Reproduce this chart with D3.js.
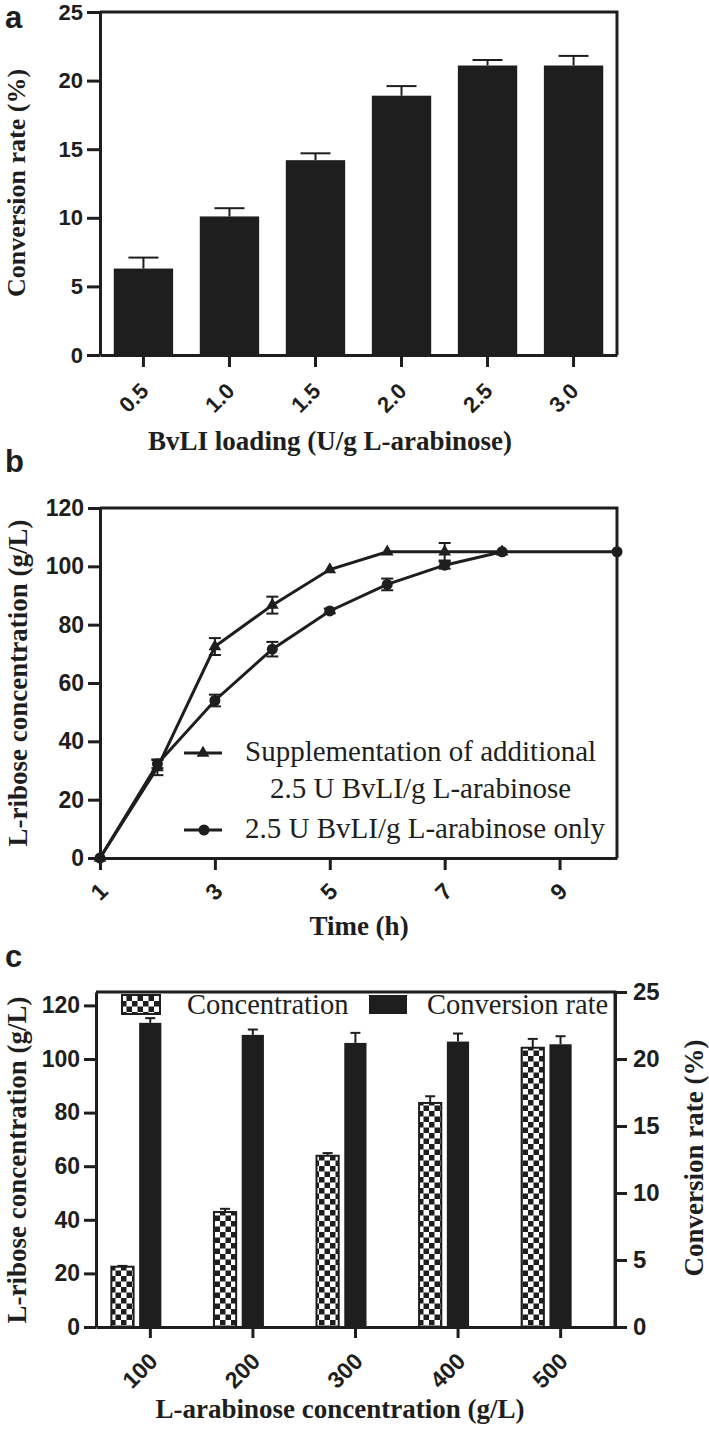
<!DOCTYPE html>
<html>
<head>
<meta charset="utf-8">
<script src="https://cdn.jsdelivr.net/npm/d3@7/dist/d3.min.js"></script>
<style>
  body { margin: 0; background: #fff; }
  svg { display: block; }
</style>
</head>
<body>
<svg width="709" height="1431"></svg>
<script>
// panel a: conversion vs enzyme loading
const loadingLevels = ["0.5", "1.0", "1.5", "2.0", "2.5", "3.0"];
const loadingRate = [6.3, 10.1, 14.2, 18.9, 21.1, 21.1];
const loadingErr = [0.8, 0.6, 0.5, 0.7, 0.4, 0.7];

// panel b: time course
const suppTime = [1, 2, 3, 4, 5, 6, 7, 8];
const suppConc = [0, 31, 72.5, 86.7, 98.9, 105, 105, 105];
const suppErr = [0, 2.6, 2.9, 2.9, 0, 0, 3, 0];
const onlyTime = [1, 2, 3, 4, 5, 6, 7, 8, 10];
const onlyConc = [0, 32.3, 54, 71.6, 84.7, 93.8, 100.4, 105, 105];
const onlyErr = [0, 1.5, 2, 2.5, 0.8, 2, 1.2, 0, 0];
const timeTicks = [1, 3, 5, 7, 9];

// panel c: substrate concentration
const arabinoseLevels = ["100", "200", "300", "400", "500"];
const riboseConc = [22.5, 42.9, 63.9, 83.6, 104.2];
const riboseErr = [0.3, 1.2, 1.0, 2.5, 3.3];
const convRate = [22.7, 21.8, 21.2, 21.3, 21.1];
const convErr = [0.35, 0.4, 0.75, 0.6, 0.6];

const svg = d3.select("svg");
const ink = "#1e1e1e";
const sans = '"Liberation Sans", Arial, sans-serif';
const serif = '"Liberation Serif", "Times New Roman", serif';

svg.append("rect").attr("width", 709).attr("height", 1431).attr("fill", "#fff");

const defs = svg.append("defs");
const pat = defs.append("pattern").attr("id", "checker")
  .attr("width", 11).attr("height", 11).attr("patternUnits", "userSpaceOnUse");
pat.append("rect").attr("width", 11).attr("height", 11).attr("fill", "#fff");
pat.append("rect").attr("width", 5.5).attr("height", 5.5).attr("fill", ink);
pat.append("rect").attr("x", 5.5).attr("y", 5.5).attr("width", 5.5).attr("height", 5.5).attr("fill", ink);

function styleAxis(g, size) {
  g.select(".domain").attr("stroke", ink).attr("stroke-width", 3);
  g.selectAll(".tick line").attr("stroke", ink).attr("stroke-width", 3);
  g.selectAll(".tick text").attr("fill", ink)
    .style("font-family", sans).style("font-weight", "bold").style("font-size", size + "px");
}
function rotateTicks(g, dx, dy) {
  g.selectAll(".tick text")
    .attr("x", 0).attr("y", 0).attr("dy", "0.35em")
    .attr("text-anchor", "end")
    .attr("transform", `translate(${dx},${dy}) rotate(-45)`);
}
function frame(x0, x1, y0, y1) {
  svg.append("path")
    .attr("d", `M${x0},${y0}H${x1}V${y1}`)
    .attr("fill", "none").attr("stroke", ink).attr("stroke-width", 3);
}
function yTitle(text, x, y, size) {
  svg.append("text").attr("transform", `translate(${x},${y}) rotate(-90)`)
    .attr("text-anchor", "middle").attr("fill", ink)
    .style("font-family", serif).style("font-weight", "bold").style("font-size", size + "px")
    .text(text);
}
function xTitle(text, x, y, size) {
  svg.append("text").attr("x", x).attr("y", y)
    .attr("text-anchor", "middle").attr("fill", ink)
    .style("font-family", serif).style("font-weight", "bold").style("font-size", size + "px")
    .text(text);
}
function panelLabel(t, x, y) {
  svg.append("text").attr("x", x).attr("y", y).attr("fill", ink)
    .style("font-family", sans).style("font-weight", "bold").style("font-size", "31px")
    .text(t);
}

// ---------- a ----------
const xA = d3.scaleBand().domain(loadingLevels).range([100, 617]).paddingInner(0.31).paddingOuter(0.16);
const yA = d3.scaleLinear().domain([0, 25]).range([355, 12]);

frame(100, 617, 12, 355);
svg.append("g").selectAll("rect").data(loadingLevels).enter().append("rect")
  .attr("x", d => xA(d)).attr("width", xA.bandwidth())
  .attr("y", (d, i) => yA(loadingRate[i]))
  .attr("height", (d, i) => yA(0) - yA(loadingRate[i]))
  .attr("fill", ink);
const errA = svg.append("g").attr("stroke", ink).attr("stroke-width", 2);
loadingLevels.forEach((d, i) => {
  const cx = xA(d) + xA.bandwidth() / 2;
  errA.append("line").attr("x1", cx).attr("x2", cx)
    .attr("y1", yA(loadingRate[i])).attr("y2", yA(loadingRate[i] + loadingErr[i]));
  errA.append("line").attr("x1", cx - 15).attr("x2", cx + 15)
    .attr("y1", yA(loadingRate[i] + loadingErr[i])).attr("y2", yA(loadingRate[i] + loadingErr[i]));
});
svg.append("g").attr("transform", "translate(100,0)")
  .call(d3.axisLeft(yA).tickValues([0, 5, 10, 15, 20, 25]).tickSize(13).tickSizeOuter(0).tickPadding(4))
  .call(g => styleAxis(g, 22));
svg.append("g").attr("transform", "translate(0,355)")
  .call(d3.axisBottom(xA).tickSize(12).tickSizeOuter(0))
  .call(g => styleAxis(g, 22))
  .call(g => rotateTicks(g, 1, 32));
yTitle("Conversion rate (%)", 25, 183, 26);
xTitle("BvLI loading (U/g L-arabinose)", 330, 450, 27);
panelLabel("a", 5, 28);

// ---------- b ----------
const xB = d3.scaleLinear().domain([1, 10]).range([100, 617]);
const yB = d3.scaleLinear().domain([0, 120]).range([858, 508]);
frame(100, 617, 508, 858);

const suppPts = suppTime.map((t, i) => ({ t, v: suppConc[i], e: suppErr[i] }));
const onlyPts = onlyTime.map((t, i) => ({ t, v: onlyConc[i], e: onlyErr[i] }));
const line = d3.line().x(d => xB(d.t)).y(d => yB(d.v));

svg.append("path").datum(suppPts).attr("d", line)
  .attr("fill", "none").attr("stroke", ink).attr("stroke-width", 3);
svg.append("path").datum(onlyPts).attr("d", line)
  .attr("fill", "none").attr("stroke", ink).attr("stroke-width", 3);

const errB = svg.append("g").attr("stroke", ink).attr("stroke-width", 2);
suppPts.concat(onlyPts).filter(d => d.e > 0).forEach(d => {
  const cx = xB(d.t);
  errB.append("line").attr("x1", cx).attr("x2", cx).attr("y1", yB(d.v - d.e)).attr("y2", yB(d.v + d.e));
  [d.v - d.e, d.v + d.e].forEach(v => {
    errB.append("line").attr("x1", cx - 6).attr("x2", cx + 6).attr("y1", yB(v)).attr("y2", yB(v));
  });
});

const tri = d3.symbol(d3.symbolTriangle).size(70);
svg.append("g").selectAll("path").data(suppPts).enter().append("path")
  .attr("d", tri).attr("transform", d => `translate(${xB(d.t)},${yB(d.v)})`).attr("fill", ink);
svg.append("g").selectAll("circle").data(onlyPts).enter().append("circle")
  .attr("cx", d => xB(d.t)).attr("cy", d => yB(d.v)).attr("r", 5.5).attr("fill", ink);

svg.append("g").attr("transform", "translate(100,0)")
  .call(d3.axisLeft(yB).tickValues(d3.range(0, 121, 20)).tickSize(12).tickSizeOuter(0).tickPadding(4))
  .call(g => styleAxis(g, 23));
svg.append("g").attr("transform", "translate(0,858)")
  .call(d3.axisBottom(xB).tickValues(timeTicks).tickSize(12).tickSizeOuter(0))
  .call(g => styleAxis(g, 23))
  .call(g => rotateTicks(g, 3, 29));

// legend b
const legB = svg.append("g");
[[753, "tri"], [830, "dot"]].forEach(([ly, kind]) => {
  legB.append("line").attr("x1", 184).attr("x2", 222).attr("y1", ly).attr("y2", ly)
    .attr("stroke", ink).attr("stroke-width", 3);
  if (kind === "tri") legB.append("path").attr("d", tri).attr("transform", `translate(203,${ly})`).attr("fill", ink);
  else legB.append("circle").attr("cx", 204).attr("cy", ly).attr("r", 5.5).attr("fill", ink);
});
const legText = (t, x, y) => legB.append("text").attr("x", x).attr("y", y).attr("fill", ink)
  .style("font-family", serif).style("font-size", "29px").text(t);
legText("Supplementation of additional", 245, 761);
legText("2.5 U BvLI/g L-arabinose", 270, 798);
legText("2.5 U BvLI/g L-arabinose only", 245, 838);

yTitle("L-ribose concentration (g/L)", 27, 683, 27);
xTitle("Time (h)", 359, 935, 27);
panelLabel("b", 5, 472);

// ---------- c ----------
const xC = d3.scaleBand().domain(arabinoseLevels).range([96, 615]).paddingInner(0).paddingOuter(0.03);
const sub = d3.scaleBand().domain(["Concentration", "Conversion rate"]).range([-39, 11]).paddingInner(0.2);
const yC = d3.scaleLinear().domain([0, 125]).range([1327, 992]);
const yR = d3.scaleLinear().domain([0, 25]).range([1327, 992]);
frame(96, 615, 992, 1327);

const mid = d => xC(d) + xC.bandwidth() / 2;
svg.append("g").selectAll("rect").data(arabinoseLevels).enter().append("rect")
  .attr("x", d => mid(d) + sub("Concentration")).attr("width", sub.bandwidth())
  .attr("y", (d, i) => yC(riboseConc[i])).attr("height", (d, i) => yC(0) - yC(riboseConc[i]))
  .attr("fill", "url(#checker)").attr("stroke", ink).attr("stroke-width", 2);
svg.append("g").selectAll("rect").data(arabinoseLevels).enter().append("rect")
  .attr("x", d => mid(d) + sub("Conversion rate")).attr("width", sub.bandwidth())
  .attr("y", (d, i) => yR(convRate[i])).attr("height", (d, i) => yR(0) - yR(convRate[i]))
  .attr("fill", ink);

const errC = svg.append("g").attr("stroke", ink).attr("stroke-width", 2);
function upErr(cx, y0, y1) {
  errC.append("line").attr("x1", cx).attr("x2", cx).attr("y1", y0).attr("y2", y1);
  errC.append("line").attr("x1", cx - 5).attr("x2", cx + 5).attr("y1", y1).attr("y2", y1);
}
arabinoseLevels.forEach((d, i) => {
  upErr(mid(d) + sub("Concentration") + sub.bandwidth() / 2, yC(riboseConc[i]), yC(riboseConc[i] + riboseErr[i]));
  upErr(mid(d) + sub("Conversion rate") + sub.bandwidth() / 2, yR(convRate[i]), yR(convRate[i] + convErr[i]));
});

svg.append("g").attr("transform", "translate(96,0)")
  .call(d3.axisLeft(yC).tickValues(d3.range(0, 121, 20)).tickSize(12).tickSizeOuter(0).tickPadding(4))
  .call(g => styleAxis(g, 23));
svg.append("g").attr("transform", "translate(615,0)")
  .call(d3.axisRight(yR).tickValues([0, 5, 10, 15, 20, 25]).tickSize(12).tickSizeOuter(0).tickPadding(6))
  .call(g => styleAxis(g, 24));
svg.append("g").attr("transform", "translate(0,1327)")
  .call(d3.axisBottom(xC).tickSize(11).tickSizeOuter(0))
  .call(g => styleAxis(g, 23))
  .call(g => rotateTicks(g, 3, 30));

// legend c
const legC = svg.append("g");
legC.append("rect").attr("x", 122).attr("y", 995).attr("width", 38).attr("height", 19)
  .attr("fill", "url(#checker)").attr("stroke", ink).attr("stroke-width", 2);
legC.append("rect").attr("x", 369).attr("y", 995).attr("width", 38).attr("height", 19).attr("fill", ink);
[["Concentration", 187], ["Conversion rate", 427]].forEach(([t, x]) => {
  legC.append("text").attr("x", x).attr("y", 1014).attr("fill", ink)
    .style("font-family", serif).style("font-size", "28.5px").text(t);
});

yTitle("L-ribose concentration (g/L)", 26, 1160, 27);
yTitle("Conversion rate (%)", 703, 1158, 27);
xTitle("L-arabinose concentration (g/L)", 340, 1418, 27);
panelLabel("c", 5, 967);
</script>
</body>
</html>
